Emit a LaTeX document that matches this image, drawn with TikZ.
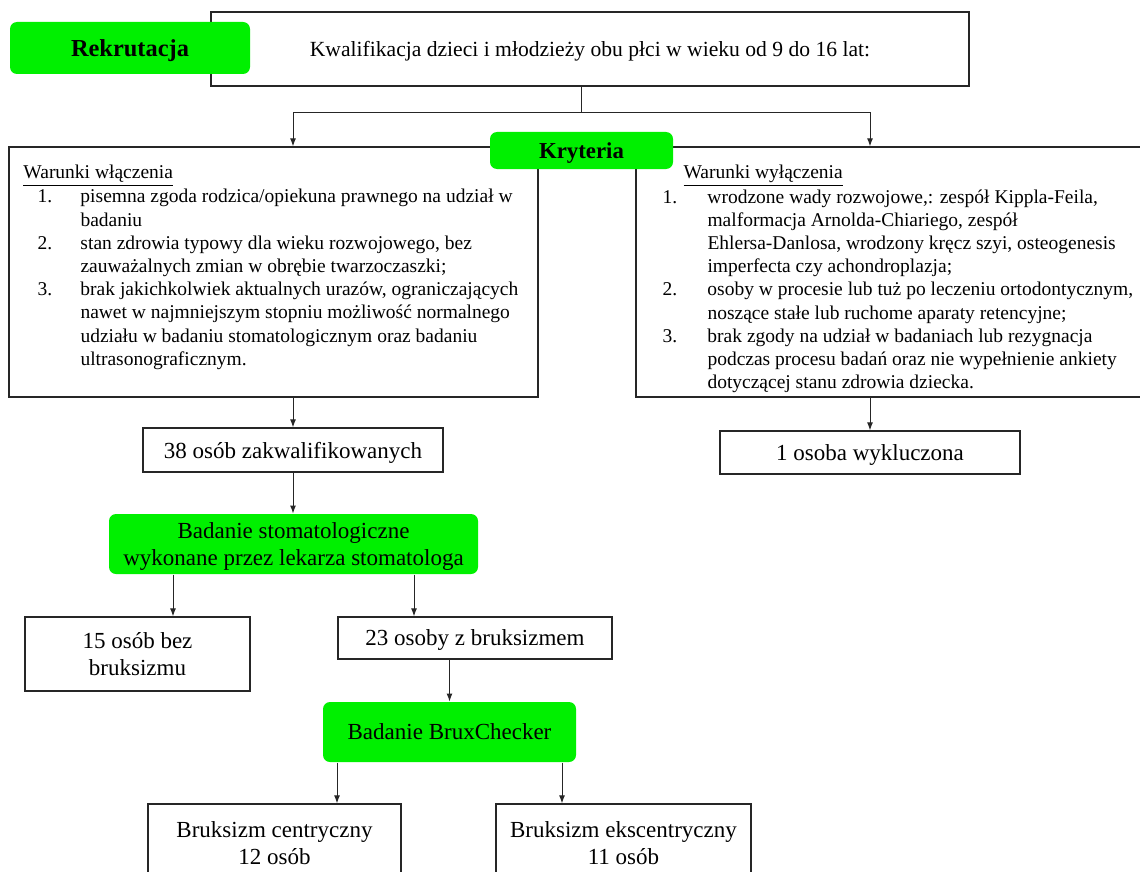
\documentclass[tikz,border=0pt]{standalone}
\usepackage{fontspec}
\setmainfont{Liberation Serif}
\usepackage{xcolor}
\usetikzlibrary{arrows.meta}
\definecolor{zielony}{RGB}{0,240,0}

\begin{document}
\begin{tikzpicture}[x=0.5pt,y=-0.5pt,->,>={Latex[length=4pt,width=3pt]},
   line width=0.5pt,draw=black!85,
   ramka/.style={draw=black!85,line width=0.65pt,inner sep=0pt,align=center,text depth=0pt,
      font=\fontsize{11.5}{13.5}\selectfont},
   zielone/.style={fill=zielony,rounded corners=3.5pt,inner sep=0pt,align=center,text depth=0pt,
      font=\fontsize{11.5}{13.5}\selectfont},
   lista/.style={anchor=north west,inner sep=0pt,font=\fontsize{9.75}{11.6}\selectfont}]

  \useasboundingbox (0,0) rectangle (1140,872);
  \clip (0,0) rectangle (1140,872);

  % rekrutacja
  \node[ramka,minimum width=379pt,minimum height=37pt,font=\fontsize{10.8}{13}\selectfont] (kwal) at (590,49)
     {Kwalifikacja dzieci i młodzieży obu płci w wieku od 9 do 16 lat:};
  \node[zielone,minimum width=120pt,minimum height=26pt,font=\fontsize{12.2}{14}\selectfont\bfseries] (rekr) at (130,48) {Rekrutacja};

  % kryteria
  \node[ramka,minimum width=264.5pt,minimum height=125pt] (incl) at (273.5,272) {};
  \node[ramka,minimum width=253pt,minimum height=125pt] (excl) at (889,272) {};
  \node[zielone,minimum width=91.5pt,minimum height=18.5pt,font=\fontsize{11.4}{13}\selectfont\bfseries] (kryt) at (581.5,150.5) {Kryteria};

  \node[lista] (incltxt) at (37,162) {\begin{tabular}{@{}p{21.5pt}@{}l@{}}
    \multicolumn{2}{@{\hspace{-7pt}}l@{}}{\underline{Warunki włączenia}}\\
    1. & pisemna zgoda rodzica/opiekuna prawnego na udział w\\
       & badaniu\\
    2. & stan zdrowia typowy dla wieku rozwojowego, bez\\
       & zauważalnych zmian w obrębie twarzoczaszki;\\
    3. & brak jakichkolwiek aktualnych urazów, ograniczających\\
       & nawet w najmniejszym stopniu możliwość normalnego\\
       & udziału w badaniu stomatologicznym oraz badaniu\\
       & ultrasonograficznym.
  \end{tabular}};

  \node[lista] (excltxt) at (662,162) {\begin{tabular}{@{}p{22.5pt}@{}l@{}}
    \multicolumn{2}{@{\hspace{10.5pt}}l@{}}{\underline{Warunki wyłączenia}}\\
    1. & wrodzone wady rozwojowe,: zespół Kippla-Feila,\\
       & malformacja Arnolda-Chiariego, zespół\\
       & Ehlersa-Danlosa, wrodzony kręcz szyi, osteogenesis\\
       & imperfecta czy achondroplazja;\\
    2. & osoby w procesie lub tuż po leczeniu ortodontycznym,\\
       & noszące stałe lub ruchome aparaty retencyjne;\\
    3. & brak zgody na udział w badaniach lub rezygnacja\\
       & podczas procesu badań oraz nie wypełnienie ankiety\\
       & dotyczącej stanu zdrowia dziecka.
  \end{tabular}};

  % wyniki
  \node[ramka,minimum width=150pt,minimum height=22pt] (q38) at (293,450) {38 osób zakwalifikowanych};
  \node[ramka,minimum width=150pt,minimum height=21.5pt] (wyk) at (870,452.5) {1 osoba wykluczona};
  \node[zielone,minimum width=184.5pt,minimum height=30pt] (stom) at (293.5,544)
     {Badanie stomatologiczne\\wykonane przez lekarza stomatologa};
  \node[ramka,minimum width=112.5pt,minimum height=37pt] (bez) at (137.5,654) {15 osób bez\\bruksizmu};
  \node[ramka,minimum width=137pt,minimum height=21pt] (zbr) at (475,638) {23 osoby z bruksizmem};
  \node[zielone,minimum width=126.5pt,minimum height=30pt] (brux) at (449.5,732) {Badanie BruxChecker};
  \node[ramka,minimum width=126.5pt,minimum height=39pt] (cent) at (274.5,843) {Bruksizm centryczny\\12 osób};
  \node[ramka,minimum width=127.5pt,minimum height=39pt] (eksc) at (623.5,843) {Bruksizm ekscentryczny\\11 osób};

  % strzalki
  \coordinate (rozg) at (581.5,113);
  \draw[-] (kwal.south -| rozg) -- (rozg);
  \draw (rozg) -| (q38 |- incl.north);
  \draw (rozg) -| (wyk |- excl.north);
  \draw (q38 |- incl.south) -- (q38.north);
  \draw (wyk |- excl.south) -- (wyk.north);
  \draw (q38.south) -- (q38.south |- stom.north);
  \draw (brux |- zbr.south) -- (brux.north);
  \foreach \z/\cel/\s in {stom/bez/-60.25pt,stom/zbr/60.25pt,brux/cent/-56.25pt,brux/eksc/56.25pt}
    \draw ([xshift=\s]\z.south) -- ([xshift=\s]\z.south |- \cel.north);
\end{tikzpicture}
\end{document}
